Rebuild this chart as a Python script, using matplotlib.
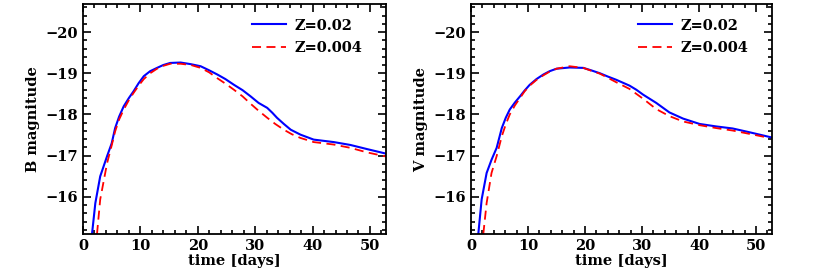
import matplotlib
matplotlib.use("Agg")
import matplotlib.pyplot as plt
from matplotlib.ticker import MultipleLocator

# B band light curves
b_t_hi = [1.57, 2.15, 3.0, 4.2, 5.0, 5.6, 6.3, 7.1, 8.0, 8.8, 9.7, 10.6, 11.7, 12.9, 14.0,
          15.2, 17.0, 18.8, 20.5, 22.0, 23.4, 24.8, 26.3, 27.8, 29.2, 30.6, 32.1, 33.0,
          33.8, 35.0, 36.2, 37.9, 40.2, 43.7, 46.6, 49.5, 52.8]
b_m_hi = [-15.1, -15.85, -16.5, -16.99, -17.3, -17.67, -17.95, -18.2, -18.4, -18.56,
          -18.76, -18.93, -19.05, -19.13, -19.2, -19.25, -19.26, -19.22, -19.17, -19.07,
          -18.97, -18.86, -18.72, -18.59, -18.44, -18.28, -18.16, -18.04, -17.92, -17.77,
          -17.63, -17.51, -17.39, -17.33, -17.26, -17.16, -17.05]
b_t_lo = [2.44, 3.0, 4.2, 5.0, 5.6, 6.3, 7.1, 8.0, 8.8, 9.7, 10.6, 11.7, 12.9, 14.0, 15.2,
          17.0, 18.8, 20.5, 22.0, 23.4, 24.8, 26.3, 27.8, 29.2, 30.6, 32.1, 33.5, 35.0,
          36.4, 37.9, 40.2, 43.7, 46.6, 49.5, 52.8]
b_m_lo = [-15.1, -15.94, -16.82, -17.25, -17.59, -17.88, -18.12, -18.35, -18.52, -18.7,
          -18.86, -19.0, -19.11, -19.18, -19.23, -19.23, -19.2, -19.13, -19.02, -18.88,
          -18.75, -18.6, -18.44, -18.26, -18.09, -17.92, -17.77, -17.63, -17.52, -17.43,
          -17.33, -17.27, -17.19, -17.08, -16.98]

# V band light curves
v_t_hi = [1.28, 1.87, 2.74, 3.6, 4.5, 5.4, 6.1, 6.8, 7.7, 8.6, 9.4, 10.3, 11.5, 12.7,
          13.8, 15.0, 17.3, 19.7, 21.1, 22.6, 24.0, 25.5, 27.8, 29.0, 30.2, 32.5, 34.8,
          37.2, 40.1, 43.0, 45.9, 48.8, 52.8]
v_m_hi = [-15.1, -15.94, -16.58, -16.9, -17.19, -17.67, -17.92, -18.12, -18.29, -18.44,
          -18.58, -18.72, -18.86, -18.97, -19.05, -19.11, -19.14, -19.13, -19.07, -19.0,
          -18.92, -18.84, -18.7, -18.6, -18.48, -18.28, -18.05, -17.9, -17.77, -17.71,
          -17.66, -17.57, -17.44]
v_t_lo = [2.16, 2.74, 3.6, 4.5, 5.4, 6.1, 6.8, 7.7, 8.6, 9.4, 10.3, 11.5, 12.7, 13.8,
          15.0, 17.3, 19.7, 21.1, 22.6, 24.0, 25.5, 27.8, 29.0, 30.2, 32.5, 34.8, 37.2,
          40.1, 43.0, 45.9, 48.8, 51.7]
v_m_lo = [-15.1, -15.85, -16.58, -16.99, -17.47, -17.76, -18.0, -18.22, -18.4, -18.56,
          -18.7, -18.84, -18.95, -19.04, -19.11, -19.17, -19.13, -19.06, -18.99, -18.89,
          -18.78, -18.62, -18.5, -18.38, -18.13, -17.96, -17.83, -17.74, -17.67, -17.61,
          -17.53, -17.45]

labels = ["Z=0.02", "Z=0.004"]

plt.rcParams['font.family'] = ['DejaVu Serif']
plt.rcParams['font.weight'] = 'bold'
plt.rcParams['font.size'] = 10.5

fig = plt.figure(figsize=(8.21, 2.73), dpi=100)
ax1 = fig.add_axes([83/821, 1 - 234/273, 303/821, 230/273])
ax2 = fig.add_axes([471/821, 1 - 234/273, 301/821, 230/273])

#draw both panels the same way
def panel(ax, t_hi, m_hi, t_lo, m_lo, ylab):
     ax.plot(t_hi, m_hi, color='blue', lw=1.5, label=labels[0])
     ax.plot(t_lo, m_lo, color='red', lw=1.3, ls=(0, (5, 3)), label=labels[1])
     ax.set_xlim(0, 52.8)
     ax.set_ylim(-15.1, -20.68)
     ax.xaxis.set_major_locator(MultipleLocator(10))
     ax.xaxis.set_minor_locator(MultipleLocator(2))
     ax.yaxis.set_major_locator(MultipleLocator(1))
     ax.yaxis.set_minor_locator(MultipleLocator(0.2))
     ax.tick_params(which='both', direction='in', top=True, right=True, width=1.2)
     ax.tick_params(which='major', length=6)
     ax.tick_params(which='minor', length=3)
     ax.set_yticks([-16, -17, -18, -19, -20])
     ax.set_yticklabels(['\u221216', '\u221217', '\u221218', '\u221219', '\u221220'])
     for s in ax.spines.values():
          s.set_linewidth(1.3)
     ax.set_xlabel("time [days]", fontweight='bold', labelpad=1)
     ax.set_ylabel(ylab, fontweight='bold')
     ax.legend(loc='upper right', frameon=False, handlelength=2.3, handletextpad=0.6,
               borderaxespad=0.6, labelspacing=0.55, bbox_to_anchor=(0.97, 1.0))

panel(ax1, b_t_hi, b_m_hi, b_t_lo, b_m_lo, "B magnitude")
panel(ax2, v_t_hi, v_m_hi, v_t_lo, v_m_lo, "V magnitude")

fig.savefig("out.png", dpi=100)
